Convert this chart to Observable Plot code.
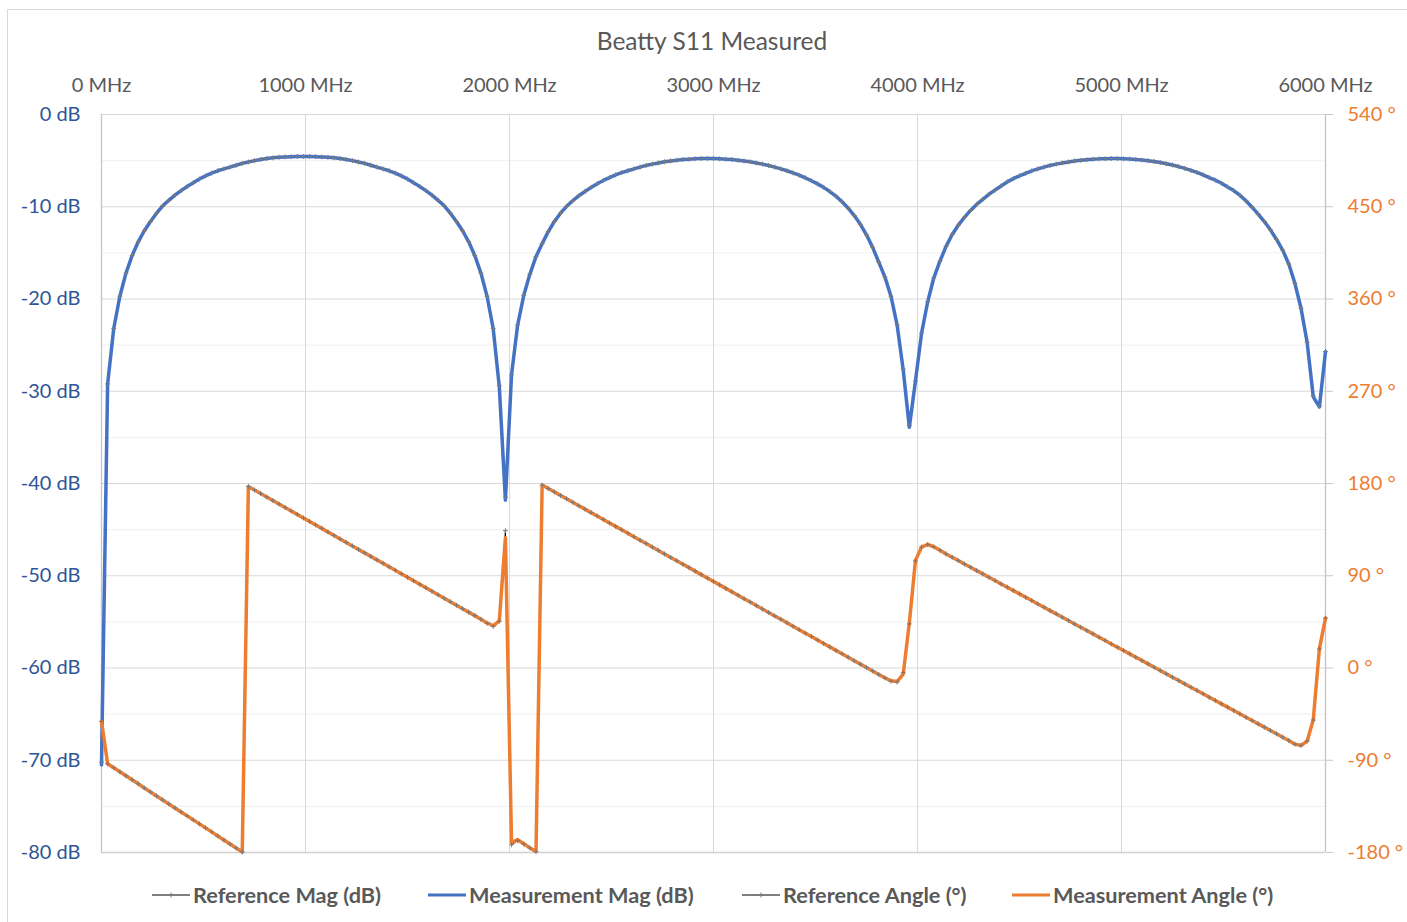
<!DOCTYPE html>
<html>
<head>
<meta charset="utf-8">
<script src="https://cdn.jsdelivr.net/npm/d3@7"></script>
<script src="https://cdn.jsdelivr.net/npm/@observablehq/plot@0.6"></script>
<style>
  html, body { margin: 0; padding: 0; background: #fff; }
  body { width: 1407px; height: 922px; position: relative; overflow: hidden; font-family: Lato, "Open Sans", sans-serif; }
  #frame { position: absolute; left: 7px; top: 9px; width: 1420px; height: 940px; border: 1px solid #d9d9d9; box-sizing: border-box; }
  #title { position: absolute; left: 0; width: 1424px; top: 26px; text-align: center; font-size: 24.5px; color: #595959; line-height: 30px; }
  #chart { position: absolute; left: 0; top: 60px; }
  .leg { position: absolute; top: 882px; height: 26px; display: flex; align-items: center; white-space: nowrap; font-size: 21.7px; font-weight: bold; color: #595959; }
  .leg svg { margin-right: 3px; }
</style>
</head>
<body>
<div id="frame"></div>
<div id="title">Beatty S11 Measured</div>
<div id="chart"></div>
<div id="legend"></div>
<script>
// ---- data ----
const freqMHz = [
  0,30,60,90,120,150,180,210,240,270,
  300,330,360,390,420,450,480,510,540,570,
  600,630,660,690,720,750,780,810,840,870,
  900,930,960,990,1020,1050,1080,1110,1140,1170,
  1200,1230,1260,1290,1320,1350,1380,1410,1440,1470,
  1500,1530,1560,1590,1620,1650,1680,1710,1740,1770,
  1800,1830,1860,1890,1920,1950,1980,2010,2040,2070,
  2100,2130,2160,2190,2220,2250,2280,2310,2340,2370,
  2400,2430,2460,2490,2520,2550,2580,2610,2640,2670,
  2700,2730,2760,2790,2820,2850,2880,2910,2940,2970,
  3000,3030,3060,3090,3120,3150,3180,3210,3240,3270,
  3300,3330,3360,3390,3420,3450,3480,3510,3540,3570,
  3600,3630,3660,3690,3720,3750,3780,3810,3840,3870,
  3900,3930,3960,3990,4020,4050,4080,4110,4140,4170,
  4200,4230,4260,4290,4320,4350,4380,4410,4440,4470,
  4500,4530,4560,4590,4620,4650,4680,4710,4740,4770,
  4800,4830,4860,4890,4920,4950,4980,5010,5040,5070,
  5100,5130,5160,5190,5220,5250,5280,5310,5340,5370,
  5400,5430,5460,5490,5520,5550,5580,5610,5640,5670,
  5700,5730,5760,5790,5820,5850,5880,5910,5940,5970,
  6000
];

const measMag = [
  -70.5,-29.2,-23.2,-19.7,-17.2,-15.3,-13.8,-12.6,-11.6,-10.7,
  -9.9,-9.3,-8.75,-8.25,-7.8,-7.4,-7.0,-6.65,-6.35,-6.1,
  -5.9,-5.7,-5.5,-5.3,-5.15,-5.0,-4.88,-4.78,-4.7,-4.64,
  -4.6,-4.57,-4.55,-4.55,-4.55,-4.57,-4.6,-4.64,-4.7,-4.78,
  -4.88,-5.0,-5.15,-5.3,-5.5,-5.7,-5.9,-6.1,-6.35,-6.65,
  -7.0,-7.4,-7.8,-8.25,-8.75,-9.3,-9.9,-10.7,-11.6,-12.6,
  -13.8,-15.3,-17.2,-19.7,-23.2,-29.5,-41.8,-28.2,-22.8,-19.6,
  -17.3,-15.4,-14.0,-12.7,-11.6,-10.7,-9.95,-9.35,-8.8,-8.35,
  -7.9,-7.5,-7.15,-6.85,-6.55,-6.3,-6.1,-5.9,-5.7,-5.52,
  -5.38,-5.25,-5.13,-5.03,-4.95,-4.89,-4.84,-4.8,-4.78,-4.77,
  -4.78,-4.8,-4.84,-4.89,-4.96,-5.04,-5.13,-5.25,-5.38,-5.53,
  -5.7,-5.9,-6.1,-6.33,-6.58,-6.87,-7.18,-7.52,-7.9,-8.35,
  -8.85,-9.45,-10.15,-10.95,-11.9,-13.05,-14.4,-16.0,-17.6,-19.7,
  -22.8,-27.7,-33.9,-28.9,-23.7,-20.3,-17.7,-15.9,-14.3,-13.0,
  -12.0,-11.15,-10.4,-9.75,-9.2,-8.65,-8.2,-7.75,-7.3,-6.95,
  -6.65,-6.37,-6.12,-5.9,-5.7,-5.52,-5.38,-5.25,-5.14,-5.04,
  -4.96,-4.9,-4.85,-4.81,-4.79,-4.78,-4.78,-4.8,-4.83,-4.88,
  -4.94,-5.01,-5.1,-5.2,-5.33,-5.48,-5.65,-5.84,-6.05,-6.28,
  -6.55,-6.85,-7.12,-7.45,-7.85,-8.25,-8.75,-9.35,-10.05,-10.8,
  -11.6,-12.5,-13.55,-14.7,-16.2,-18.3,-21.0,-24.7,-30.6,-31.7,
  -25.7
];

const refMag = [
  -70.2,-29.2,-23.2,-19.7,-17.2,-15.3,-13.8,-12.6,-11.6,-10.7,
  -9.9,-9.3,-8.75,-8.25,-7.8,-7.4,-7.0,-6.65,-6.35,-6.1,
  -5.9,-5.7,-5.5,-5.3,-5.15,-5.0,-4.88,-4.78,-4.7,-4.64,
  -4.6,-4.57,-4.55,-4.55,-4.55,-4.57,-4.6,-4.64,-4.7,-4.78,
  -4.88,-5.0,-5.15,-5.3,-5.5,-5.7,-5.9,-6.1,-6.35,-6.65,
  -7.0,-7.4,-7.8,-8.25,-8.75,-9.3,-9.9,-10.7,-11.6,-12.6,
  -13.8,-15.3,-17.2,-19.7,-23.2,-29.4,-41.5,-28.2,-22.8,-19.6,
  -17.3,-15.4,-14.0,-12.7,-11.6,-10.7,-9.95,-9.35,-8.8,-8.35,
  -7.9,-7.5,-7.15,-6.85,-6.55,-6.3,-6.1,-5.9,-5.7,-5.52,
  -5.38,-5.25,-5.13,-5.03,-4.95,-4.89,-4.84,-4.8,-4.78,-4.77,
  -4.78,-4.8,-4.84,-4.89,-4.96,-5.04,-5.13,-5.25,-5.38,-5.53,
  -5.7,-5.9,-6.1,-6.33,-6.58,-6.87,-7.18,-7.52,-7.9,-8.35,
  -8.85,-9.45,-10.15,-10.95,-11.9,-13.05,-14.4,-16.0,-17.6,-19.7,
  -22.8,-27.6,-33.7,-28.9,-23.7,-20.3,-17.7,-15.9,-14.3,-13.0,
  -12.0,-11.15,-10.4,-9.75,-9.2,-8.65,-8.2,-7.75,-7.3,-6.95,
  -6.65,-6.37,-6.12,-5.9,-5.7,-5.52,-5.38,-5.25,-5.14,-5.04,
  -4.96,-4.9,-4.85,-4.81,-4.79,-4.78,-4.78,-4.8,-4.83,-4.88,
  -4.94,-5.01,-5.1,-5.2,-5.33,-5.48,-5.65,-5.84,-6.05,-6.28,
  -6.55,-6.85,-7.12,-7.45,-7.85,-8.25,-8.75,-9.35,-10.05,-10.8,
  -11.6,-12.5,-13.55,-14.7,-16.2,-18.3,-21.0,-24.7,-30.5,-31.6,
  -25.7
];

const measAngle = [
  -52.0,-93.5,-97.4,-101.3,-105.2,-109.1,-113.0,-117.0,-120.9,-124.8,
  -128.7,-132.6,-136.5,-140.4,-144.3,-148.2,-152.1,-156.0,-159.9,-163.9,
  -167.8,-171.7,-175.6,-179.5,177.0,173.6,170.2,166.8,163.4,160.0,
  156.6,153.2,149.8,146.4,143.0,139.6,136.2,132.7,129.3,125.9,
  122.5,119.1,115.7,112.3,108.9,105.5,102.1,98.7,95.3,91.9,
  88.5,85.1,81.7,78.3,74.9,71.5,68.1,64.7,61.3,57.9,
  54.5,51.1,47.6,44.0,41.2,46.0,127.0,-170.5,-167.5,-171.5,
  -175.5,-179.0,178.5,175.1,171.8,168.4,165.1,161.7,158.3,155.0,
  151.6,148.3,144.9,141.5,138.2,134.8,131.5,128.1,124.7,121.4,
  118.0,114.7,111.3,107.9,104.6,101.2,97.9,94.5,91.1,87.8,
  84.4,81.1,77.7,74.3,71.0,67.6,64.3,60.9,57.5,54.2,
  50.8,47.5,44.1,40.7,37.4,34.0,30.7,27.3,23.9,20.6,
  17.2,13.9,10.5,7.1,3.8,0.4,-2.9,-6.3,-9.5,-12.5,
  -13.2,-6.0,44.0,105.0,118.0,120.5,118.3,114.8,111.3,108.0,
  104.8,101.5,98.3,95.0,91.8,88.5,85.3,82.0,78.8,75.5,
  72.3,69.0,65.8,62.5,59.3,56.0,52.8,49.5,46.3,43.0,
  39.8,36.5,33.3,30.0,26.8,23.5,20.3,17.0,13.8,10.5,
  7.3,4.0,0.8,-2.5,-5.7,-9.0,-12.2,-15.5,-18.7,-22.0,
  -25.2,-28.5,-31.7,-35.0,-38.2,-41.5,-44.7,-48.0,-51.2,-54.5,
  -57.7,-61.0,-64.2,-67.5,-70.8,-74.3,-75.6,-71.4,-50.6,18.7,
  48.7
];

const refAngle = [
  -52.0,-93.5,-97.4,-101.3,-105.2,-109.1,-113.0,-117.0,-120.9,-124.8,
  -128.7,-132.6,-136.5,-140.4,-144.3,-148.2,-152.1,-156.0,-159.9,-163.9,
  -167.8,-171.7,-175.6,-179.5,177.0,173.6,170.2,166.8,163.4,160.0,
  156.6,153.2,149.8,146.4,143.0,139.6,136.2,132.7,129.3,125.9,
  122.5,119.1,115.7,112.3,108.9,105.5,102.1,98.7,95.3,91.9,
  88.5,85.1,81.7,78.3,74.9,71.5,68.1,64.7,61.3,57.9,
  54.5,51.1,47.4,43.6,40.6,45.6,134.0,-172.5,-168.5,-171.8,
  -175.6,-179.2,178.5,175.1,171.8,168.4,165.1,161.7,158.3,155.0,
  151.6,148.3,144.9,141.5,138.2,134.8,131.5,128.1,124.7,121.4,
  118.0,114.7,111.3,107.9,104.6,101.2,97.9,94.5,91.1,87.8,
  84.4,81.1,77.7,74.3,71.0,67.6,64.3,60.9,57.5,54.2,
  50.8,47.5,44.1,40.7,37.4,34.0,30.7,27.3,23.9,20.6,
  17.2,13.9,10.5,7.1,3.8,0.4,-2.9,-6.3,-9.6,-12.8,
  -13.8,-4.5,43.0,104.5,118.0,120.5,118.3,114.8,111.3,108.0,
  104.8,101.5,98.3,95.0,91.8,88.5,85.3,82.0,78.8,75.5,
  72.3,69.0,65.8,62.5,59.3,56.0,52.8,49.5,46.3,43.0,
  39.8,36.5,33.3,30.0,26.8,23.5,20.3,17.0,13.8,10.5,
  7.3,4.0,0.8,-2.5,-5.7,-9.0,-12.2,-15.5,-18.7,-22.0,
  -25.2,-28.5,-31.7,-35.0,-38.2,-41.5,-44.7,-48.0,-51.2,-54.5,
  -57.7,-61.0,-64.2,-67.5,-70.8,-74.3,-75.4,-71.2,-50.8,18.5,
  48.7
];

// axis ticks and labels
const freqTicks = [0, 1000, 2000, 3000, 4000, 5000, 6000];
const dbTicks = [0, -10, -20, -30, -40, -50, -60, -70, -80];
const dbMinor = [-5, -15, -25, -35, -45, -55, -65, -75];
const angleTicks = [540, 450, 360, 270, 180, 90, 0, -90, -180];
const angleTop = 540, angleBottom = -180; // secondary axis range
const dbTop = 0, dbBottom = -80;         // primary axis range

const legendItems = [
  {label: "Reference Mag (dB)", color: "#000000", width: 1, marker: true, left: 152},
  {label: "Measurement Mag (dB)", color: "#4472C4", width: 3, marker: false, left: 428},
  {label: "Reference Angle (°)", color: "#000000", width: 1, marker: true, left: 742},
  {label: "Measurement Angle (°)", color: "#ED7D31", width: 3, marker: false, left: 1012}
];

// ---- build ----
const rows = freqMHz.map((f, i) => ({f, refMag: refMag[i], measMag: measMag[i], refAng: refAngle[i], measAng: measAngle[i]}));
// map secondary (angle) axis onto primary (dB) axis
const angToDb = a => dbBottom + (a - angleBottom) * (dbTop - dbBottom) / (angleTop - angleBottom);

const markerColor = "#7a7a7a";
const chart = Plot.plot({
  width: 1407,
  height: 820,
  marginLeft: 101,
  marginRight: 82,
  marginTop: 54,
  marginBottom: 28,
  style: {fontFamily: "Lato, 'Open Sans', sans-serif", fontSize: "20px", background: "transparent", overflow: "visible"},
  x: {domain: [0, 6000]},
  y: {domain: [dbBottom, dbTop]},
  marks: [
    Plot.ruleY(dbMinor, {stroke: "#f0f0f0", strokeWidth: 1}),
    Plot.ruleY(dbTicks, {stroke: "#d9d9d9", strokeWidth: 1}),
    Plot.ruleX(freqTicks.slice(1, -1), {stroke: "#d9d9d9", strokeWidth: 1}),
    Plot.ruleX([freqTicks[0], freqTicks[freqTicks.length - 1]], {stroke: "#c4c4c4", strokeWidth: 1.3}),
    Plot.ruleY([dbBottom], {stroke: "#d0d0d0", strokeWidth: 1.3}),
    Plot.axisX(freqTicks, {anchor: "top", label: null, tickSize: 0, tickPadding: 23, tickFormat: d => `${d} MHz`, color: "#595959", fontSize: 20}),
    Plot.axisY(dbTicks, {anchor: "left", label: null, tickSize: 0, tickPadding: 21, tickFormat: d => `${d} dB`, color: "#2F5597", fontSize: 20}),
    Plot.axisY(dbTicks, {anchor: "right", label: null, tickSize: 7, tickPadding: 15, stroke: "#c4c4c4", fill: "#ED7D31", fontSize: 20,
      tickFormat: d => `${angleTicks[dbTicks.indexOf(d)]} °`}),
    // primary group: magnitude
    Plot.line(rows, {x: "f", y: "refMag", stroke: "#000000", strokeWidth: 1}),
    Plot.line(rows, {x: "f", y: "measMag", stroke: "#4472C4", strokeWidth: 3.5, strokeLinejoin: "round"}),
    Plot.dot(rows, {x: "f", y: "refMag", symbol: "plus", r: 1.7, stroke: markerColor, strokeWidth: 1}),
    // secondary group: angle
    Plot.line(rows, {x: "f", y: d => angToDb(d.refAng), stroke: "#000000", strokeWidth: 1}),
    Plot.line(rows, {x: "f", y: d => angToDb(d.measAng), stroke: "#ED7D31", strokeWidth: 3.5, strokeLinejoin: "round"}),
    Plot.dot(rows, {x: "f", y: d => angToDb(d.refAng), symbol: "plus", r: 1.7, stroke: markerColor, strokeWidth: 1})
  ]
});
document.getElementById("chart").appendChild(chart);

const legend = document.getElementById("legend");
for (const item of legendItems) {
  const div = document.createElement("div");
  div.className = "leg";
  div.style.left = item.left + "px";
  const ns = "http://www.w3.org/2000/svg";
  const svg = document.createElementNS(ns, "svg");
  svg.setAttribute("width", 38); svg.setAttribute("height", 10);
  const ln = document.createElementNS(ns, "line");
  ln.setAttribute("x1", 0); ln.setAttribute("x2", 38); ln.setAttribute("y1", 5); ln.setAttribute("y2", 5);
  ln.setAttribute("stroke", item.color); ln.setAttribute("stroke-width", item.width);
  svg.appendChild(ln);
  if (item.marker) {
    const p = document.createElementNS(ns, "path");
    p.setAttribute("d", "M16.5,5H21.5M19,2.5V7.5");
    p.setAttribute("stroke", markerColor); p.setAttribute("stroke-width", 1);
    svg.appendChild(p);
  }
  div.appendChild(svg);
  const span = document.createElement("span");
  span.textContent = item.label;
  div.appendChild(span);
  legend.appendChild(div);
}
</script>
</body>
</html>
